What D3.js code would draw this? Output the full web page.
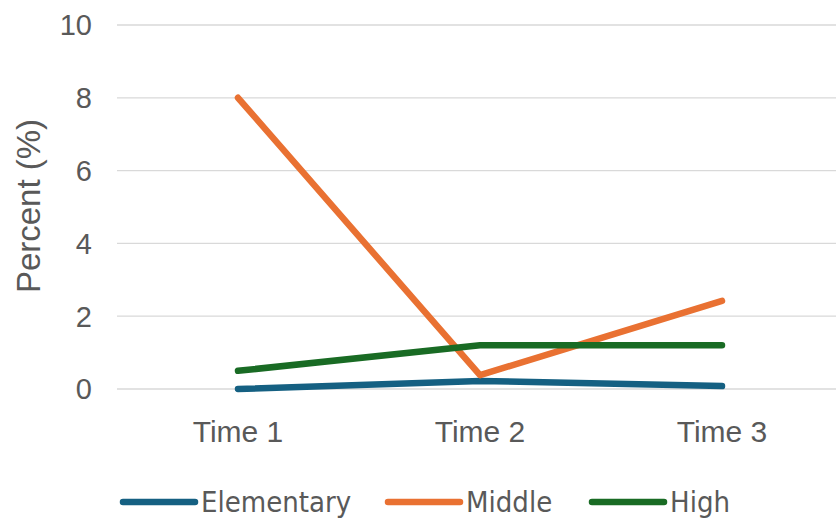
<!DOCTYPE html>
<html>
<head>
<meta charset="utf-8">
<script src="https://cdn.jsdelivr.net/npm/d3@7"></script>
<style>
  body { margin: 0; background: #fff; }
  text { font-family: "Liberation Sans", Arial, sans-serif; fill: #595959; }
</style>
</head>
<body>
<svg id="drawing_region"></svg>
<script>
const categories = ["Time 1", "Time 2", "Time 3"];
const seriesNames = ["Elementary", "Middle", "High"];
const elementary = [0, 0.22, 0.08];
const middle = [8, 0.38, 2.42];
const high = [0.5, 1.2, 1.2];
const yTicks = [0, 2, 4, 6, 8, 10];
const colors = ["#156082", "#e97132", "#196b24"];

const seriesValues = [elementary, middle, high];

const width = 836, height = 520;
const margin = { top: 25, right: -7, bottom: 131, left: 117 };

const svg = d3.select('#drawing_region')
    .attr('width', width)
    .attr('height', height);

const x = d3.scaleBand()
    .domain(categories)
    .range([margin.left, width - margin.right]);

const y = d3.scaleLinear()
    .domain([0, 10])
    .range([height - margin.bottom, margin.top]);

// gridlines
svg.append('g')
    .selectAll('line')
    .data(yTicks)
    .enter()
    .append('line')
    .attr('x1', margin.left)
    .attr('x2', width)
    .attr('y1', d => y(d))
    .attr('y2', d => y(d))
    .attr('stroke', '#d9d9d9')
    .attr('stroke-width', 1.3);

// y tick labels
svg.append('g')
    .selectAll('text')
    .data(yTicks)
    .enter()
    .append('text')
    .attr('x', 92)
    .attr('y', d => y(d))
    .attr('dy', '0.36em')
    .attr('text-anchor', 'end')
    .style('font-size', '29px')
    .text(d => d);

// x labels
svg.append('g')
    .selectAll('text')
    .data(categories)
    .enter()
    .append('text')
    .attr('x', d => x(d) + x.bandwidth() / 2)
    .attr('y', 442)
    .attr('text-anchor', 'middle')
    .style('font-size', '30px')
    .text(d => d);

// axis title
svg.append('text')
    .attr('transform', 'translate(40, 206) rotate(-90)')
    .attr('text-anchor', 'middle')
    .style('font-size', '33px')
    .text('Percent (%)');

const line = d3.line()
    .x((d, i) => x(categories[i]) + x.bandwidth() / 2)
    .y(d => y(d));

svg.append('g')
    .selectAll('path')
    .data(seriesValues)
    .enter()
    .append('path')
    .attr('d', d => line(d))
    .attr('fill', 'none')
    .attr('stroke', (d, i) => colors[i])
    .attr('stroke-width', 6.5)
    .attr('stroke-linecap', 'round')
    .attr('stroke-linejoin', 'round');

// legend
const legendX = [123, 388, 592];
const legend = svg.append('g')
    .selectAll('g')
    .data(seriesNames)
    .enter()
    .append('g')
    .attr('transform', (d, i) => `translate(${legendX[i]}, 502)`);

legend.append('line')
    .attr('x1', 0)
    .attr('x2', 72)
    .attr('stroke', (d, i) => colors[i])
    .attr('stroke-width', 6.5)
    .attr('stroke-linecap', 'round');

legend.append('text')
    .attr('x', 78)
    .attr('dy', '0.34em')
    .style('font-family', '"Liberation Sans Narrow", "DejaVu Sans Condensed", sans-serif')
    .style('font-size', '29px')
    .text(d => d);
</script>
</body>
</html>
